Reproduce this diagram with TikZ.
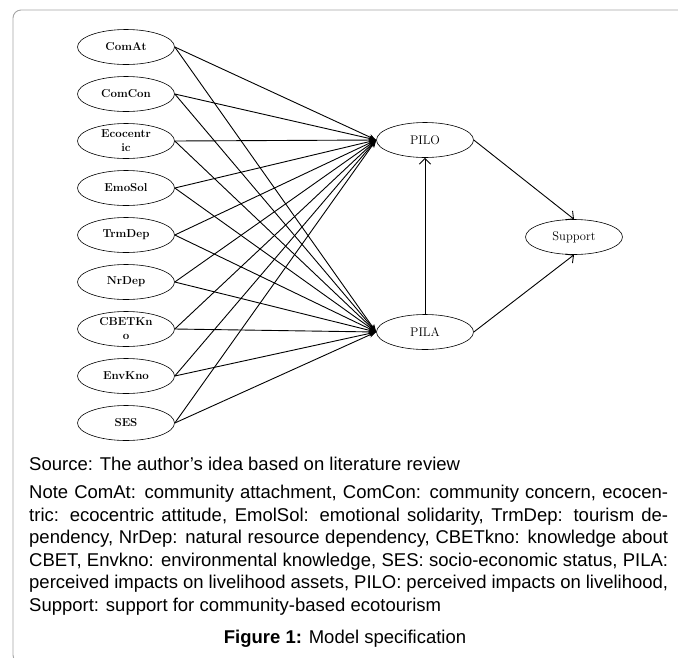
\documentclass[tikz,border=0pt]{standalone}
\usepackage{fontspec}
\usepackage{tikz}
\usetikzlibrary{arrows.meta,positioning,shapes.geometric}
\newfontfamily\notefont{Liberation Sans}
\definecolor{framegray}{RGB}{165,165,165}
\tikzset{
  cons/.style={ellipse,draw=black,line width=0.6pt,minimum width=97pt,minimum height=35pt,inner sep=0pt,align=center,font=\fontsize{11.5}{14}\selectfont\bfseries},
  med/.style={cons,font=\fontsize{12.5}{14}\selectfont},
  link/.style={-{Stealth[length=2.6mm]},line width=0.9pt},
  arr/.style={-{Straight Barb[length=2mm]},line width=0.9pt},
  frame/.style={draw=framegray,line width=0.9pt,rounded corners=8pt},
  txt/.style={inner sep=0pt,font=\notefont\fontsize{18.5}{22.5}\selectfont}
}

\begin{document}
\begin{tikzpicture}[x=1pt,y=1pt,node distance=47pt,on grid]
  \useasboundingbox (0,0) rectangle (678,-657);
  \begin{scope}
    \clip (0,0) rectangle (678,-657);
    \draw[frame] (40,-663) -- (13,-663) -- (13,-10) -- (690,-10);
  \end{scope}
  % exogenous constructs
  \node[cons] (comat) at (126,-47) {ComAt};
  \node[cons,below=of comat] (comcon) {ComCon};
  \node[cons,below=of comcon] (ecoc) {Ecocentr\\ic};
  \node[cons,below=of ecoc] (emosol) {EmoSol};
  \node[cons,below=of emosol] (trmdep) {TrmDep};
  \node[cons,below=of trmdep] (nrdep) {NrDep};
  \node[cons,below=of nrdep] (cbetkno) {CBETKn\\o};
  \node[cons,below=of cbetkno] (envkno) {EnvKno};
  \node[cons,below=of envkno] (ses) {SES};
  % mediators and outcome
  \node[med] (pilo) at (425,-140) {PILO};
  \node[med,below=192pt of pilo] (pila) {PILA};
  \node[med] (supp) at (574,-237) {Support};
  \foreach \s in {comat,comcon,ecoc,emosol,trmdep,nrdep,cbetkno,envkno,ses}{
    \draw[link] (\s.east) -- (pilo.west);
    \draw[link] (\s.east) -- (pila.west);
  }
  \draw[arr] (pila) -- (pilo);
  \draw[arr] (pilo.east) -- (supp.north);
  \draw[arr] (pila.east) -- (supp.south);
  % source, note and caption
  \node[txt,anchor=base west] (src) at (29,-470) {Source: The author’s idea based on literature review};
  \node[txt,anchor=north west,text width=639pt,align=justify] (note) at (29,-485)
    {Note ComAt: community attachment, ComCon: community concern, ecocen-\linebreak
     tric: ecocentric attitude, EmolSol: emotional solidarity, TrmDep: tourism de-\linebreak
     pendency, NrDep: natural resource dependency, CBETkno: knowledge about\linebreak
     CBET, Envkno: environmental knowledge, SES: socio-economic status, PILA:\linebreak
     perceived impacts on livelihood assets, PILO: perceived impacts on livelihood,\linebreak
     Support: support for community-based ecotourism};
  \node[txt,anchor=base] (capt) at (345,-643) {\textbf{Figure 1:} Model specification};
\end{tikzpicture}
\end{document}
